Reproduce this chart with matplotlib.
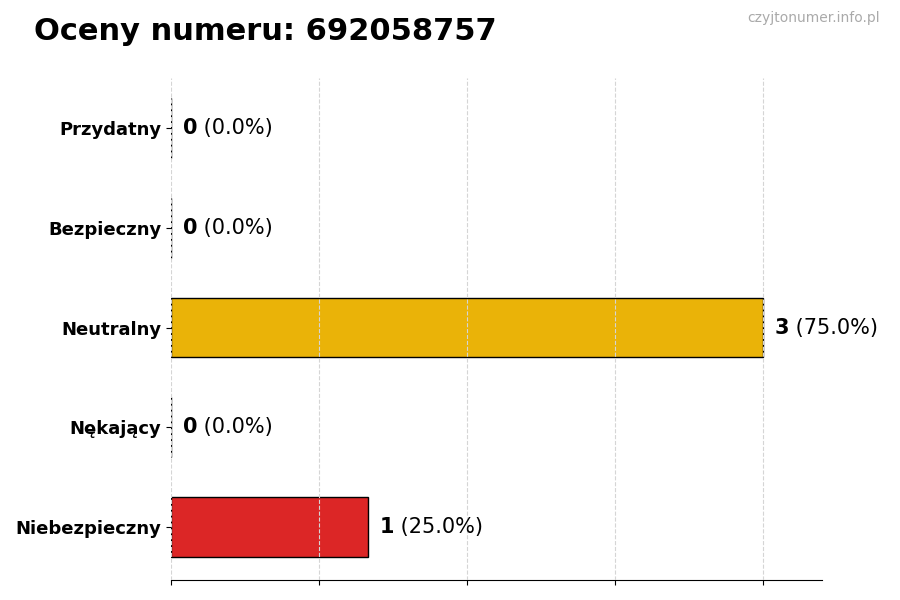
import matplotlib
matplotlib.use("Agg")
import matplotlib.pyplot as plt

# data
categories = ["Przydatny", "Bezpieczny", "Neutralny", "Nękający", "Niebezpieczny"]
counts = [0, 0, 3, 0, 1]
colors = ["#16a34a", "#2563eb", "#eab308", "#f97316", "#dc2626"]
title = "Oceny numeru: 692058757"
watermark = "czyjtonumer.info.pl"

total = sum(counts)
ypos = list(range(len(categories)))[::-1]

fig = plt.figure(figsize=(9, 6), dpi=100)
ax = fig.add_axes([0.19, 0.0333, 0.723, 0.8367])

ax.barh(ypos, counts, height=0.6, color=colors, edgecolor="black", linewidth=1, zorder=2)

ax.set_yticks(ypos)
ax.set_yticklabels(categories, fontsize=13, fontweight="bold")
ax.set_ylim(-0.53, 4.5)
ax.set_xlim(0, 3.3)
ax.set_xticks([0, 0.75, 1.5, 2.25, 3.0])
ax.set_xticklabels([])
ax.grid(axis="x", linestyle="--", color="#d5d5d5", linewidth=0.8, zorder=3)
ax.set_axisbelow(False)
for s in ["top", "right", "left"]:
    ax.spines[s].set_visible(False)

for y, c in zip(ypos, counts):
    pct = c / total * 100
    t = ax.annotate(str(c), xy=(c, y), xytext=(8.5, 0), textcoords="offset points",
                    va="center", ha="left", fontsize=15, fontweight="bold")
    ax.annotate(" ({:.1f}%)".format(pct), xy=(1, 0.5), xycoords=t,
                va="center", ha="left", fontsize=15)

fig.text(0.038, 0.948, title, fontsize=22, fontweight="bold", va="center")
fig.text(0.978, 0.97, watermark, fontsize=10, color="#aaaaaa", ha="right", va="center")

fig.savefig("out.png")
